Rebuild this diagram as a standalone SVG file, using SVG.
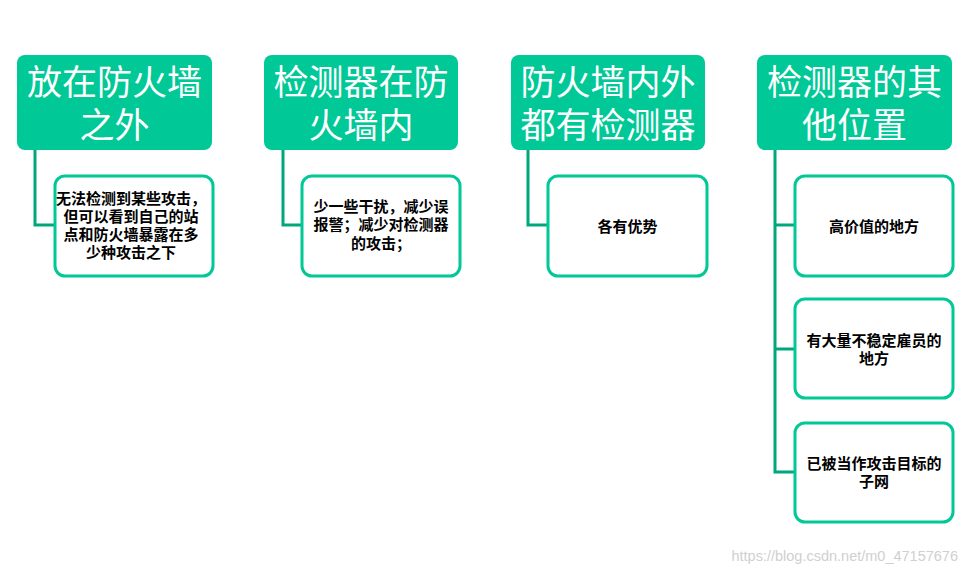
<svg xmlns="http://www.w3.org/2000/svg" width="968" height="574" viewBox="0 0 968 574">
<style>
.hd{fill:#00C896;}
.hdt{fill:#ffffff;font-family:"Microsoft YaHei","Noto Sans CJK SC",sans-serif;font-size:35px;text-anchor:middle;dominant-baseline:central;}
.ch{fill:#ffffff;stroke:#00C896;stroke-width:3;}
.cht{fill:#000000;font-family:"Noto Sans CJK SC",sans-serif;font-size:15px;font-weight:bold;text-anchor:middle;dominant-baseline:central;}
.cn{fill:none;stroke:#00A77D;stroke-width:3;}
.wm{fill:#d0d0d0;font-family:"Liberation Sans",Arial,sans-serif;font-size:14.5px;text-anchor:end;dominant-baseline:central;}
</style>
<rect width="968" height="574" fill="#ffffff"/>
<g id="connectors">
<polyline class="cn" points="35,150 35,225 55,225"/>
<polyline class="cn" points="283,150 283,225 302,225"/>
<polyline class="cn" points="528,150 528,225 548,225"/>
<polyline class="cn" points="775,150 775,472 795,472"/>
<line class="cn" x1="775" y1="225" x2="795" y2="225"/>
<line class="cn" x1="775" y1="349" x2="795" y2="349"/>
</g>
<g id="h1"><rect class="hd" x="17" y="55" width="195" height="95" rx="8"/><text class="hdt" x="114.5" y="79">放在防火墙</text><text class="hdt" x="114.5" y="122">之外</text></g>
<g id="h2"><rect class="hd" x="264" y="55" width="194" height="95" rx="8"/><text class="hdt" x="361" y="79">检测器在防</text><text class="hdt" x="361" y="122">火墙内</text></g>
<g id="h3"><rect class="hd" x="511" y="55" width="194" height="95" rx="8"/><text class="hdt" x="608" y="79">防火墙内外</text><text class="hdt" x="608" y="122">都有检测器</text></g>
<g id="h4"><rect class="hd" x="757" y="55" width="195" height="95" rx="8"/><text class="hdt" x="854.5" y="79">检测器的其</text><text class="hdt" x="854.5" y="122">他位置</text></g>
<g id="c1"><rect class="ch" x="55" y="176" width="158" height="100" rx="10"/><text class="cht" x="131" y="197">无法检测到某些攻击，</text><text class="cht" x="131" y="215">但可以看到自己的站</text><text class="cht" x="131" y="233">点和防火墙暴露在多</text><text class="cht" x="131" y="251">少种攻击之下</text></g>
<g id="c2"><rect class="ch" x="302" y="176" width="158" height="100" rx="10"/><text class="cht" x="381" y="205">少一些干扰，减少误</text><text class="cht" x="381" y="223">报警；减少对检测器</text><text class="cht" x="381" y="242">的攻击；</text></g>
<g id="c3"><rect class="ch" x="548" y="176" width="159" height="100" rx="10"/><text class="cht" x="627.5" y="225">各有优势</text></g>
<g id="c4a"><rect class="ch" x="795" y="176" width="158" height="100" rx="10"/><text class="cht" x="874" y="225">高价值的地方</text></g>
<g id="c4b"><rect class="ch" x="795" y="299" width="158" height="99" rx="10"/><text class="cht" x="874" y="339">有大量不稳定雇员的</text><text class="cht" x="874" y="357">地方</text></g>
<g id="c4c"><rect class="ch" x="795" y="423" width="158" height="99" rx="10"/><text class="cht" x="874" y="462">已被当作攻击目标的</text><text class="cht" x="874" y="480">子网</text></g>
<text class="wm" x="958" y="556">https://blog.csdn.net/m0_47157676</text>
</svg>
